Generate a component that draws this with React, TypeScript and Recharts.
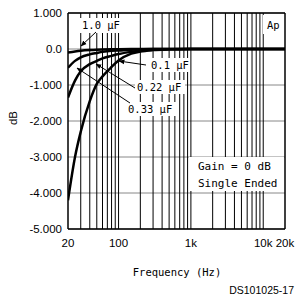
import { LineChart, Line, XAxis, YAxis, CartesianGrid, ReferenceLine } from 'recharts';

const freqs = [20, 25, 30, 40, 50, 60, 80, 100, 150, 200, 300, 500, 1000, 2000, 5000, 10000, 20000];
const cap010 = [-4.2, -3.0, -2.3, -1.45, -0.97, -0.76, -0.5, -0.32, -0.13, -0.07, -0.03, -0.01, 0, 0, 0, 0, 0];
const cap022 = [-1.35, -0.88, -0.62, -0.42, -0.33, -0.26, -0.19, -0.14, -0.08, -0.05, -0.02, -0.01, 0, 0, 0, 0, 0];
const cap033 = [-0.52, -0.33, -0.23, -0.15, -0.11, -0.08, -0.05, -0.04, -0.02, -0.01, 0, 0, 0, 0, 0, 0, 0];
const cap100 = [-0.1, -0.07, -0.05, -0.03, -0.02, -0.015, -0.01, -0.005, 0, 0, 0, 0, 0, 0, 0, 0, 0];

const xTicks = [20, 100, 1000, 10000, 20000];
const xTickLabels = ['20', '100', '1k', '10k', '20k'];
const yTicks = [-5, -4, -3, -2, -1, 0, 1];
const gridFreqs = [
    30, 40, 50, 60, 70, 80, 90, 100,
    200, 300, 400, 500, 600, 700, 800, 900, 1000,
    2000, 3000, 4000, 5000, 6000, 7000, 8000, 9000, 10000,
];

const data = freqs.map((f, i) => ({
    f,
    c010: cap010[i],
    c022: cap022[i],
    c033: cap033[i],
    c100: cap100[i],
}));

const tickFont = { fontFamily: 'Liberation Sans', fontSize: 11.5, fill: '#000' };
const mono = 'DejaVu Sans Mono';

const fmtY = (v: number) => (v === 0 ? '0.0' : v.toFixed(3));
const fmtX = (v: number) => xTickLabels[xTicks.indexOf(v)] ?? '';

const App = () => {
    return (
        <div style={{ position: 'absolute', left: 0, top: 0, width: 298, height: 299, background: '#fff' }}>
            <LineChart
                width={298}
                height={299}
                data={data}
                margin={{ top: 13, right: 13, left: 8, bottom: 40 }}
            >
                <CartesianGrid stroke="#888" vertical={false} horizontal={true} />
                {gridFreqs.map((g) => (
                    <ReferenceLine key={g} x={g} stroke="#000" strokeWidth={1} />
                ))}
                <ReferenceLine y={1} stroke="#000" strokeWidth={1.5} />
                <ReferenceLine x={20000} stroke="#000" strokeWidth={1.5} />
                <XAxis
                    dataKey="f"
                    type="number"
                    scale="log"
                    domain={[20, 20000]}
                    ticks={xTicks}
                    tickFormatter={fmtX}
                    tick={tickFont}
                    tickLine={false}
                    tickSize={8}
                    tickMargin={2}
                    height={30}
                    interval={0}
                    allowDataOverflow
                    axisLine={{ stroke: '#000', strokeWidth: 1.5 }}
                />
                <YAxis
                    type="number"
                    domain={[-5, 1]}
                    ticks={yTicks}
                    tickFormatter={fmtY}
                    tick={tickFont}
                    tickLine={false}
                    tickSize={4}
                    tickMargin={2}
                    width={60}
                    interval={0}
                    axisLine={{ stroke: '#000', strokeWidth: 1.5 }}
                />
                <Line type="monotone" dataKey="c100" stroke="#000" strokeWidth={2.5} dot={false} isAnimationActive={false} />
                <Line type="monotone" dataKey="c033" stroke="#000" strokeWidth={2.5} dot={false} isAnimationActive={false} />
                <Line type="monotone" dataKey="c022" stroke="#000" strokeWidth={2.5} dot={false} isAnimationActive={false} />
                <Line type="monotone" dataKey="c010" stroke="#000" strokeWidth={2.5} dot={false} isAnimationActive={false} />
            </LineChart>

            {/* annotations drawn on top of the plot */}
            <svg width={298} height={299} style={{ position: 'absolute', left: 0, top: 0, pointerEvents: 'none' }}>
                <defs>
                    <marker id="ah" viewBox="0 0 10 10" refX="9" refY="5" markerWidth="6" markerHeight="6" orient="auto">
                        <path d="M0,1 L10,5 L0,9 z" fill="#000" />
                    </marker>
                </defs>

                <rect x={80} y={18} width={43} height={15} fill="#fff" />
                <text x={82} y={29} fontFamily={mono} fontSize={10.5}>1.0 µF</text>
                <line x1={96} y1={32} x2={81} y2={46} stroke="#000" strokeWidth={1} markerEnd="url(#ah)" />

                <rect x={148} y={58} width={42} height={14} fill="#fff" />
                <text x={151} y={69} fontFamily={mono} fontSize={10.5}>0.1 µF</text>
                <line x1={146} y1={65} x2={119} y2={61} stroke="#000" strokeWidth={1} markerEnd="url(#ah)" />

                <rect x={135} y={80} width={50} height={14} fill="#fff" />
                <text x={137} y={91} fontFamily={mono} fontSize={10.5}>0.22 µF</text>
                <line x1={135} y1={88} x2={96} y2={64} stroke="#000" strokeWidth={1} markerEnd="url(#ah)" />

                <rect x={126} y={102} width={50} height={14} fill="#fff" />
                <text x={128} y={113} fontFamily={mono} fontSize={10.5}>0.33 µF</text>
                <line x1={130} y1={103} x2={77} y2={68} stroke="#000" strokeWidth={1} markerEnd="url(#ah)" />

                <rect x={263} y={15} width={21} height={19} fill="#fff" />
                <text x={267} y={29} fontFamily={mono} fontSize={10.5}>Ap</text>

                <rect x={189} y={157} width={95} height={34} fill="#fff" />
                <text x={198} y={170} fontFamily={mono} fontSize={11}>Gain = 0 dB</text>
                <text x={198} y={187} fontFamily={mono} fontSize={11}>Single Ended</text>

                <text x={17} y={118} fontFamily="Liberation Sans" fontSize={11.5} textAnchor="middle" transform="rotate(-90 17 118)">dB</text>
                <text x={177} y={276} fontFamily={mono} fontSize={10.5} textAnchor="middle">Frequency (Hz)</text>
                <text x={294} y={294} fontFamily="Liberation Sans" fontSize={10.5} textAnchor="end">DS101025-17</text>
            </svg>
        </div>
    );
};

export default App;
